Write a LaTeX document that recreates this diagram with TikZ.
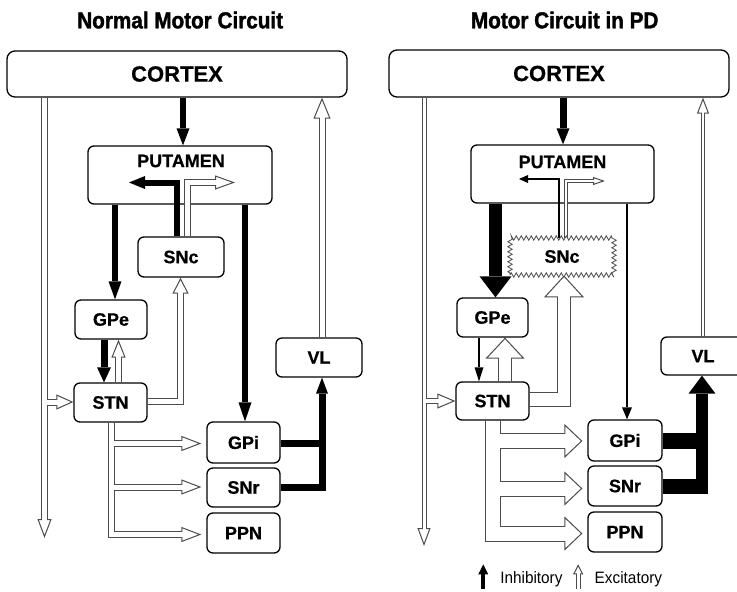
\documentclass[tikz,border=0pt]{standalone}
\usepackage{fontspec}
\setmainfont{Liberation Sans}[BoldFeatures={FakeBold=0.6}]
\newfontfamily\titlefont{Liberation Sans}[FakeStretch=0.9, BoldFeatures={FakeBold=1.6}]
\newfontfamily\legfont{Liberation Sans}[FakeStretch=0.93]
\usetikzlibrary{arrows.meta,calc,decorations.pathmorphing}
\pgfdeclarelayer{bg}\pgfdeclarelayer{pout}\pgfdeclarelayer{pin}
\pgfsetlayers{bg,pout,pin,main}
\definecolor{pipecol}{gray}{0.3}
\definecolor{zzcol}{gray}{0.3}
\tikzset{
  box/.style={draw=black, line width=1.3pt, rounded corners=6pt, fill=white, inner sep=0pt, font=\bfseries\fontsize{18}{20}\selectfont},
  bigbox/.style={box, font=\bfseries\fontsize{22}{24}\selectfont, rounded corners=8pt},
  ttl/.style={font=\titlefont\bfseries\fontsize{23}{26}\selectfont, anchor=base},
  leg/.style={font=\legfont\fontsize{16.5}{18}\selectfont, anchor=base},
  lbl/.style={font=\bfseries\fontsize{18}{20}\selectfont},
  zigbox/.style={draw=zzcol, line width=0.8pt, fill=white, inner sep=0pt, decorate, decoration={zigzag, amplitude=2.2pt, segment length=5pt}, font=\bfseries\fontsize{18}{20}\selectfont},
}
% #1 line width, #2 tip length, #3 tip width, #4 path
\newcommand\inharrow[4]{%
  \begin{pgfonlayer}{pin}
  \draw[black, line width=#1, -{Triangle[length=#2, width=#3, line width=0pt]}] #4;
  \end{pgfonlayer}}
% #1 outer width, #2 inner width, #3 tip length, #4 tip width, #5 inner shorten, #6 path
\newcommand\excarrow[6]{%
  \begin{pgfonlayer}{pout}
  \draw[pipecol, line width=#1, -{Triangle[length=#3, width=#4, fill=white, line width=1pt]}] #6;
  \end{pgfonlayer}
  \begin{pgfonlayer}{pin}
  \draw[white, line width=#2, shorten >=#5] #6;
  \end{pgfonlayer}}
\begin{document}
\begin{tikzpicture}[x=1pt,y=-1pt]
\useasboundingbox (0,0) rectangle (737,592);
\begin{pgfonlayer}{bg}
\fill[white] (0,0) rectangle (737,592);
\end{pgfonlayer}
\clip (0,0) rectangle (737,592);

% titles
\node[ttl] (t1) at (180.2,28.3) {Normal Motor Circuit};
\node[ttl] (t2) at (564.7,28.3) {Motor Circuit in PD};

% ---------- left panel nodes
\node[bigbox, minimum width=340pt, minimum height=46pt] (cortexL) at (177,74) {CORTEX};
\begin{pgfonlayer}{bg}
\node[box, fill=none, minimum width=184pt, minimum height=58pt] (putL) at (180,175) {};
\end{pgfonlayer}
\node[lbl] (putLtxt) at (181,161) {PUTAMEN};
\node[box, minimum width=86pt, minimum height=40pt] (sncL) at (181,257) {SNc};
\node[box, minimum width=72pt, minimum height=39pt] (gpeL) at (111,319.5) {GPe};
\node[box, minimum width=73pt, minimum height=39pt] (stnL) at (110.5,402.5) {STN};
\node[box, minimum width=73pt, minimum height=41pt] (gpiL) at (243.5,442.5) {GPi};
\node[box, minimum width=73pt, minimum height=39pt] (snrL) at (243.5,487.5) {SNr};
\node[box, minimum width=73pt, minimum height=40pt] (ppnL) at (243.5,533) {PPN};
\node[box, minimum width=86pt, minimum height=39pt] (vlL) at (319,357.5) {VL};

% ---------- right panel nodes
\node[bigbox, minimum width=340pt, minimum height=47pt] (cortexR) at (559,73.5) {CORTEX};
\begin{pgfonlayer}{bg}
\node[box, fill=none, minimum width=183pt, minimum height=58pt] (putR) at (562.5,174) {};
\end{pgfonlayer}
\node[lbl] (putRtxt) at (562.5,162) {PUTAMEN};
\node[zigbox, minimum width=104pt, minimum height=37pt] (sncR) at (562,256.5) {SNc};
\node[box, minimum width=71pt, minimum height=39pt] (gpeR) at (492.5,317.5) {GPe};
\node[box, minimum width=73pt, minimum height=38pt] (stnR) at (492.5,401) {STN};
\node[box, minimum width=74pt, minimum height=41pt] (gpiR) at (625,440.5) {GPi};
\node[box, minimum width=74pt, minimum height=40pt] (snrR) at (625,486) {SNr};
\node[box, minimum width=74pt, minimum height=40pt] (ppnR) at (625,532) {PPN};
\node[box, minimum width=84pt, minimum height=38pt] (vlR) at (703,356) {VL};

% legend texts
\node[leg] (inhtxt) at (531.4,583.3) {Inhibitory};
\node[leg] (exctxt) at (628.4,583.3) {Excitatory};

% ---------- left inhibitory
\inharrow{6pt}{17pt}{13pt}{(183,0 |- cortexL.south) -- (183,0 |- putL.north)}
\inharrow{6pt}{18pt}{13pt}{(115,0 |- putL.south) -- (115,0 |- gpeL.north)}
\inharrow{6.5pt}{19pt}{13pt}{(245,0 |- putL.south) -- (245,0 |- gpiL.north)}
\inharrow{7pt}{15pt}{14pt}{(104,0 |- gpeL.south) -- (104,0 |- stnL.north)}
\inharrow{6pt}{16pt}{13pt}{(177,0 |- sncL.north) |- (129,182.5)}
\begin{pgfonlayer}{pin}
\draw[black, line width=7pt] (gpiL.east |- 0,443) -- (325.5,443);
\end{pgfonlayer}
\inharrow{7pt}{16pt}{12pt}{(snrL.east |- 0,487.5) -| (322,0 |- vlL.south)}

% ---------- left excitatory
\excarrow{7pt}{5pt}{19pt}{14pt}{17pt}{(44.5,0 |- cortexL.south) -- (44.5,538)}
\excarrow{7pt}{5pt}{17pt}{15pt}{15pt}{(44.5,402) -- (stnL.west |- 0,402)}
\excarrow{7pt}{5pt}{21pt}{17pt}{19pt}{(322,0 |- vlL.north) -- (322,0 |- cortexL.south)}
\excarrow{7pt}{5pt}{18pt}{14pt}{16pt}{(118.5,0 |- stnL.north) -- (118.5,0 |- gpeL.south)}
\excarrow{7pt}{5pt}{16pt}{16pt}{14pt}{(stnL.east |- 0,401.5) -| (180.5,0 |- sncL.south)}
\excarrow{7pt}{5pt}{20pt}{14pt}{18pt}{(187.5,0 |- sncL.north) |- (235,182.5)}
\excarrow{7pt}{5pt}{20pt}{15pt}{18pt}{(111.5,0 |- stnL.south) |- ($(gpiL.west)+(-5,1)$)}
\excarrow{7pt}{5pt}{20pt}{15pt}{18pt}{(111.5,0 |- stnL.south) |- ($(snrL.west)+(-5,-0.5)$)}
\excarrow{7pt}{5pt}{20pt}{15pt}{18pt}{(111.5,0 |- stnL.south) |- ($(ppnL.west)+(-5,1.5)$)}

% ---------- right inhibitory
\inharrow{7pt}{16pt}{13pt}{(563,0 |- cortexR.south) -- (563,0 |- putR.north)}
\inharrow{13pt}{21pt}{32pt}{(495.5,0 |- putR.south) -- (495.5,0 |- gpeR.north)}
\inharrow{2.5pt}{12pt}{10pt}{(627,0 |- putR.south) -- (627,0 |- gpiR.north)}
\inharrow{2.5pt}{14pt}{9pt}{(479,0 |- gpeR.south) -- (479,0 |- stnR.north)}
\inharrow{2.5pt}{9pt}{8pt}{(559,0 |- sncR.north) |- (519,179)}
\begin{pgfonlayer}{pin}
\draw[black, line width=16pt] (gpiR.east) -- (708,0 |- gpiR.east);
\draw[black, line width=15pt] (snrR.east) -- (708,0 |- snrR.east);
\end{pgfonlayer}
\inharrow{12pt}{18pt}{27pt}{($(702,0 |- snrR.east)+(0,7.5)$) -- (702,0 |- vlR.south)}

% ---------- right excitatory
\excarrow{5pt}{3pt}{18pt}{13pt}{16pt}{(424,0 |- cortexR.south) -- (424,546)}
\excarrow{5.5pt}{3.5pt}{18pt}{15pt}{16pt}{(424,401) -- (stnR.west)}
\excarrow{4pt}{2pt}{16pt}{12pt}{14pt}{(703,0 |- vlR.north) -- (703,0 |- cortexR.south)}
\excarrow{14pt}{12pt}{21pt}{39pt}{19pt}{(505,0 |- stnR.north) -- (505,0 |- gpeR.south)}
\excarrow{14.5pt}{12.5pt}{22pt}{40pt}{20pt}{(stnR.east |- 0,399.5) -| (564,0 |- sncR.south)}
\excarrow{4pt}{2pt}{12pt}{8pt}{10pt}{(566,0 |- sncR.north) |- (605,181)}
\excarrow{16pt}{14pt}{18pt}{34pt}{16pt}{(493,0 |- stnR.south) |- ($(gpiR.west)+(-5,0.5)$)}
\excarrow{16pt}{14pt}{18pt}{34pt}{16pt}{(493,0 |- stnR.south) |- ($(snrR.west)+(-5,2.5)$)}
\excarrow{16pt}{14pt}{18pt}{34pt}{16pt}{(493,0 |- stnR.south) |- ($(ppnR.west)+(-5,1.5)$)}

% ---------- legend arrows
\inharrow{4pt}{10pt}{10pt}{($(inhtxt.base west)+(-13.5,6)$) -- ($(inhtxt.base west)+(-13.5,-19)$)}
\excarrow{5pt}{3pt}{10pt}{10pt}{8pt}{($(exctxt.base west)+(-13,6)$) -- ($(exctxt.base west)+(-13,-19)$)}
\end{tikzpicture}
\end{document}
